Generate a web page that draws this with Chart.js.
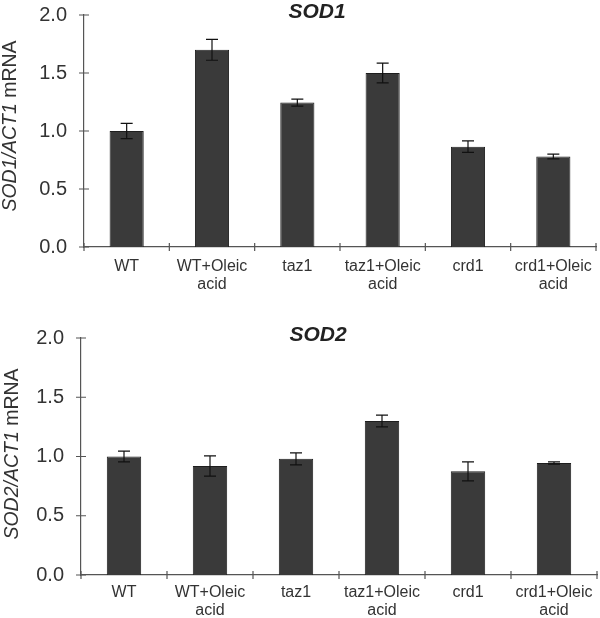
<!DOCTYPE html>
<html>
<head>
<meta charset="utf-8">
<script src="https://cdn.jsdelivr.net/npm/chart.js@4.4.1/dist/chart.umd.min.js"></script>
<style>
  body { margin: 0; background: #fff; }
  #wrap { width: 600px; height: 618px; position: relative; }
  .panel { position: absolute; left: 0; width: 600px; height: 309px; }
</style>
</head>
<body>
<div id="wrap">
  <div class="panel" style="top:0"><canvas id="sod1" width="600" height="309"></canvas></div>
  <div class="panel" style="top:309px"><canvas id="sod2" width="600" height="309"></canvas></div>
</div>
<script>
const categories = ['WT', ['WT+Oleic', 'acid'], 'taz1', ['taz1+Oleic', 'acid'], 'crd1', ['crd1+Oleic', 'acid']];
const sod1Values = [1.00, 1.70, 1.245, 1.50, 0.865, 0.78];
const sod1Errors = [0.065, 0.09, 0.03, 0.085, 0.05, 0.02];
const sod2Values = [1.00, 0.92, 0.98, 1.30, 0.875, 0.945];
const sod2Errors = [0.045, 0.085, 0.05, 0.05, 0.08, 0.01];

const FONT = "'Liberation Sans', Arial, Helvetica, sans-serif";
const TEXT = '#333';
const AXIS = '#555';

// error bars, tick marks crossing the axes, title and y label with italic parts
const decorPlugin = {
  id: 'decor',
  afterDatasetsDraw(chart, args, opts) {
    const ctx = chart.ctx;
    const y = chart.scales.y;
    const meta = chart.getDatasetMeta(0);
    ctx.save();
    ctx.strokeStyle = '#111';
    ctx.lineWidth = 1.2;
    meta.data.forEach((bar, i) => {
      const v = opts.values[i], e = opts.errors[i];
      const yt = y.getPixelForValue(v + e);
      const yb = y.getPixelForValue(v - e);
      ctx.beginPath();
      ctx.moveTo(bar.x, yt); ctx.lineTo(bar.x, yb);
      ctx.moveTo(bar.x - 6, yt); ctx.lineTo(bar.x + 6, yt);
      ctx.moveTo(bar.x - 6, yb); ctx.lineTo(bar.x + 6, yb);
      ctx.stroke();
    });
    ctx.restore();
  },
  afterDraw(chart, args, opts) {
    const ctx = chart.ctx;
    const area = chart.chartArea;
    const y = chart.scales.y;
    ctx.save();
    ctx.strokeStyle = AXIS;
    ctx.lineWidth = 1.2;
    ctx.beginPath();
    y.ticks.forEach((t, i) => {
      const py = y.getPixelForTick(i);
      ctx.moveTo(area.left - 5, py); ctx.lineTo(area.left + 5, py);
    });
    const n = categories.length;
    for (let i = 0; i <= n; i++) {
      const px = area.left + i * (area.right - area.left) / n;
      ctx.moveTo(px, area.bottom - 4); ctx.lineTo(px, area.bottom + 4);
    }
    ctx.stroke();

    // panel title
    ctx.fillStyle = '#222';
    ctx.font = 'italic bold 21px ' + FONT;
    ctx.textAlign = 'center';
    ctx.textBaseline = 'middle';
    ctx.fillText(opts.title, opts.titleX, opts.titleY);

    // rotated y axis label: italic ratio + normal " mRNA"
    ctx.translate(opts.labelX, opts.labelY);
    ctx.rotate(-Math.PI / 2);
    ctx.fillStyle = TEXT;
    const italicFont = 'italic 19.5px ' + FONT;
    const normalFont = '19.5px ' + FONT;
    ctx.font = italicFont;
    const w1 = ctx.measureText(opts.ratio).width;
    ctx.font = normalFont;
    const w2 = ctx.measureText(' mRNA').width;
    let start = -(w1 + w2) / 2;
    ctx.textAlign = 'left';
    ctx.font = italicFont;
    ctx.fillText(opts.ratio, start, 0);
    ctx.font = normalFont;
    ctx.fillText(' mRNA', start + w1, 0);
    ctx.restore();
  }
};

function makeChart(id, values, errors, cfg) {
  return new Chart(document.getElementById(id), {
    type: 'bar',
    data: {
      labels: categories,
      datasets: [{
        data: values,
        backgroundColor: '#3a3a3a',
        borderColor: '#1e1e1e',
        borderWidth: 1,
        barPercentage: 0.4,
        categoryPercentage: 1.0
      }]
    },
    options: {
      responsive: false,
      animation: false,
      layout: { padding: { top: cfg.top, right: cfg.right, left: 0, bottom: 0 } },
      plugins: {
        legend: { display: false },
        tooltip: { enabled: false },
        decor: {
          values: values, errors: errors,
          title: cfg.title, titleX: cfg.titleX, titleY: cfg.titleY,
          ratio: cfg.ratio, labelX: cfg.labelX, labelY: cfg.labelY
        }
      },
      scales: {
        x: {
          grid: { display: false, drawTicks: false },
          border: { display: true, color: AXIS, width: 1.2 },
          ticks: {
            color: TEXT,
            padding: cfg.xPad,
            maxRotation: 0,
            autoSkip: false,
            font: { family: FONT, size: 16, lineHeight: 1.1 }
          },
          afterFit(scale) {
            scale.height = cfg.xHeight;
            scale.paddingLeft = 0; scale.paddingRight = 0;
            scale.paddingTop = 0; scale.paddingBottom = 0;
          }
        },
        y: {
          min: 0,
          max: 2,
          grid: { display: false, drawTicks: false },
          border: { display: true, color: AXIS, width: 1.2 },
          ticks: {
            stepSize: 0.5,
            color: TEXT,
            padding: 17,
            font: { family: FONT, size: 20 },
            callback: v => v.toFixed(1)
          },
          afterFit(scale) {
            scale.width = cfg.yWidth;
            scale.paddingTop = 0; scale.paddingBottom = 0;
          }
        }
      }
    },
    plugins: [decorPlugin]
  });
}

makeChart('sod1', sod1Values, sod1Errors, {
  top: 15, right: 4, xHeight: 62, yWidth: 84, xPad: 11,
  title: 'SOD1', titleX: 317, titleY: 12,
  ratio: 'SOD1/ACT1', labelX: 11, labelY: 126
});

makeChart('sod2', sod2Values, sod2Errors, {
  top: 29, right: 3, xHeight: 43, yWidth: 81, xPad: 9,
  title: 'SOD2', titleX: 318, titleY: 26,
  ratio: 'SOD2/ACT1', labelX: 13, labelY: 145
});
</script>
</body>
</html>
